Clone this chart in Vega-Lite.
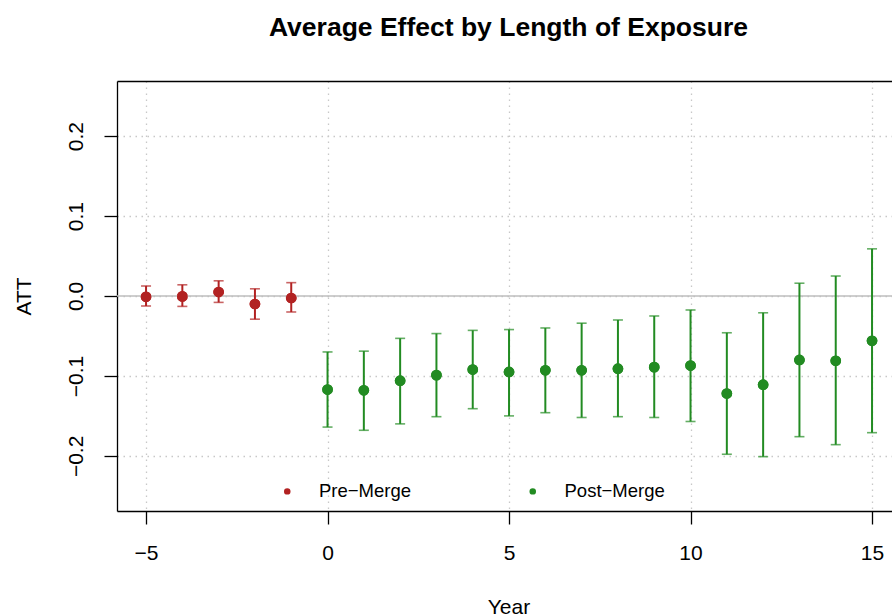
{
  "$schema": "https://vega.github.io/schema/vega-lite/v6.json",
  "width": 775,
  "height": 430,
  "autosize": {"type": "none"},
  "padding": {"left": 117, "top": 81, "right": 0, "bottom": 104},
  "background": "white",
  "title": {
    "text": "Average Effect by Length of Exposure",
    "fontSize": 26.5,
    "font": "Liberation Sans",
    "fontWeight": "bold",
    "color": "black",
    "anchor": "middle",
    "frame": "group",
    "baseline": "alphabetic",
    "offset": 19,
    "dx": 4
  },
  "config": {
    "view": {"stroke": null},
    "font": "Liberation Sans",
    "axis": {
      "labelFont": "Liberation Sans",
      "labelFontSize": 21,
      "labelColor": "black",
      "titleFont": "Liberation Sans",
      "titleFontSize": 21,
      "titleFontWeight": "normal",
      "titleColor": "black",
      "domainColor": "black",
      "domainWidth": 1.3,
      "tickColor": "black",
      "tickWidth": 1.3,
      "tickSize": 13,
      "gridColor": "#c8c8c8",
      "gridDash": [1.5, 4.5],
      "gridWidth": 1.3
    },
    "legend": {
      "title": null,
      "orient": "none",
      "legendX": 161,
      "legendY": 401,
      "direction": "horizontal",
      "symbolType": "circle",
      "symbolSize": 42,
      "symbolStrokeWidth": 0,
      "labelFont": "Liberation Sans",
      "labelFontSize": 18.5,
      "labelColor": "black",
      "labelOffset": 22.5,
      "columnPadding": 111.5,
      "padding": 0
    }
  },
  "data": {
    "values": [
      {"year": -5, "att": -0.001, "lo": -0.0125, "hi": 0.0125, "period": "Pre−Merge"},
      {"year": -4, "att": -0.0005, "lo": -0.013, "hi": 0.014, "period": "Pre−Merge"},
      {"year": -3, "att": 0.005, "lo": -0.008, "hi": 0.019, "period": "Pre−Merge"},
      {"year": -2, "att": -0.010, "lo": -0.029, "hi": 0.009, "period": "Pre−Merge"},
      {"year": -1, "att": -0.0025, "lo": -0.020, "hi": 0.0167, "period": "Pre−Merge"},
      {"year": 0, "att": -0.117, "lo": -0.164, "hi": -0.070, "period": "Post−Merge"},
      {"year": 1, "att": -0.118, "lo": -0.168, "hi": -0.069, "period": "Post−Merge"},
      {"year": 2, "att": -0.106, "lo": -0.160, "hi": -0.053, "period": "Post−Merge"},
      {"year": 3, "att": -0.099, "lo": -0.151, "hi": -0.047, "period": "Post−Merge"},
      {"year": 4, "att": -0.092, "lo": -0.141, "hi": -0.043, "period": "Post−Merge"},
      {"year": 5, "att": -0.095, "lo": -0.150, "hi": -0.042, "period": "Post−Merge"},
      {"year": 6, "att": -0.093, "lo": -0.146, "hi": -0.040, "period": "Post−Merge"},
      {"year": 7, "att": -0.093, "lo": -0.152, "hi": -0.034, "period": "Post−Merge"},
      {"year": 8, "att": -0.091, "lo": -0.151, "hi": -0.030, "period": "Post−Merge"},
      {"year": 9, "att": -0.089, "lo": -0.152, "hi": -0.025, "period": "Post−Merge"},
      {"year": 10, "att": -0.087, "lo": -0.157, "hi": -0.0175, "period": "Post−Merge"},
      {"year": 11, "att": -0.122, "lo": -0.198, "hi": -0.046, "period": "Post−Merge"},
      {"year": 12, "att": -0.111, "lo": -0.201, "hi": -0.021, "period": "Post−Merge"},
      {"year": 13, "att": -0.080, "lo": -0.176, "hi": 0.016, "period": "Post−Merge"},
      {"year": 14, "att": -0.081, "lo": -0.186, "hi": 0.025, "period": "Post−Merge"},
      {"year": 15, "att": -0.056, "lo": -0.171, "hi": 0.059, "period": "Post−Merge"}
    ]
  },
  "resolve": {"axis": {"x": "independent"}},
  "layer": [
    {
      "mark": {"type": "point", "filled": true, "size": 115, "opacity": 1},
      "encoding": {
        "x": {
          "field": "year", "type": "quantitative",
          "scale": {"domain": [-5.8, 15.55], "nice": false, "zero": false},
          "axis": {
            "orient": "bottom",
            "values": [-5, 0, 5, 10, 15],
            "labelBaseline": "alphabetic",
            "labelPadding": 35,
            "labelFlush": false,
            "labelOverlap": false,
            "grid": true,
            "title": "Year",
            "titleX": 391.5,
            "titleY": 102.5,
            "titleAlign": "center",
            "titleBaseline": "alphabetic"
          }
        },
        "y": {
          "field": "att", "type": "quantitative",
          "scale": {"domain": [-0.269, 0.269], "nice": false, "zero": false},
          "axis": {
            "values": [-0.2, -0.1, 0, 0.1, 0.2],
            "format": ".1f",
            "labelAngle": -90,
            "labelAlign": "center",
            "labelBaseline": "alphabetic",
            "labelPadding": 22,
            "labelFlush": false,
            "labelOverlap": false,
            "grid": true,
            "title": "ATT",
            "titleAngle": -90,
            "titleX": -87,
            "titleY": 215,
            "titleAlign": "center",
            "titleBaseline": "alphabetic"
          }
        },
        "color": {
          "field": "period", "type": "nominal",
          "scale": {"domain": ["Pre−Merge", "Post−Merge"], "range": ["#B22222", "#228B22"]}
        }
      }
    },
    {
      "data": {"values": [{"z": 0}]},
      "mark": {"type": "rule", "color": "#bebebe", "strokeWidth": 1.5},
      "encoding": {
        "y": {"field": "z", "type": "quantitative"}
      }
    },
    {
      "mark": {"type": "rule", "strokeWidth": 2},
      "encoding": {
        "x": {
          "field": "year", "type": "quantitative",
          "axis": {"orient": "top", "labels": false, "ticks": false, "grid": false, "domain": true, "title": null}
        },
        "y": {"field": "lo", "type": "quantitative"},
        "y2": {"field": "hi"},
        "color": {"field": "period", "type": "nominal"}
      }
    },
    {
      "mark": {"type": "tick", "orient": "horizontal", "size": 10, "thickness": 1.6},
      "encoding": {
        "x": {"field": "year", "type": "quantitative", "axis": null},
        "y": {"field": "lo", "type": "quantitative"},
        "color": {"field": "period", "type": "nominal"}
      }
    },
    {
      "mark": {"type": "tick", "orient": "horizontal", "size": 10, "thickness": 1.6},
      "encoding": {
        "x": {"field": "year", "type": "quantitative", "axis": null},
        "y": {"field": "hi", "type": "quantitative"},
        "color": {"field": "period", "type": "nominal"}
      }
    },
    {
      "mark": {"type": "point", "filled": true, "size": 115, "opacity": 1},
      "encoding": {
        "x": {"field": "year", "type": "quantitative", "axis": null},
        "y": {"field": "att", "type": "quantitative"},
        "color": {"field": "period", "type": "nominal"}
      }
    }
  ]
}
